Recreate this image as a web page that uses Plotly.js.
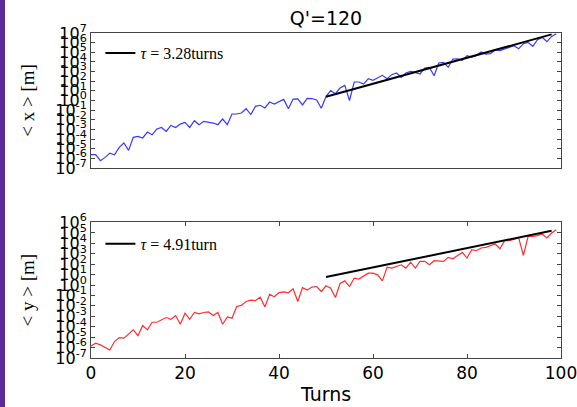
<!DOCTYPE html>
<html>
<head>
<meta charset="utf-8">
<script src="https://cdn.plot.ly/plotly-3.0.1.min.js"></script>
<style>
  html, body { margin: 0; padding: 0; background: #ffffff; }
  #wrap { position: relative; width: 577px; height: 407px; }
  #chart { width: 577px; height: 407px; }
  #strip { position: absolute; left: 0; top: 0; width: 5px; height: 407px; background: #5a2a96; }
</style>
</head>
<body>
<div id="wrap">
  <div id="chart"></div>
  <div id="strip"></div>
</div>
<script>
// Turn numbers
const turns = [0,1,2,3,4,5,6,7,8,9,10,11,12,13,14,15,16,17,18,19,20,21,22,23,24,25,26,27,28,29,30,31,32,33,34,35,36,37,38,39,40,41,42,43,44,45,46,47,48,49,50,51,52,53,54,55,56,57,58,59,60,61,62,63,64,65,66,67,68,69,70,71,72,73,74,75,76,77,78,79,80,81,82,83,84,85,86,87,88,89,90,91,92,93,94,95,96,97,98,99];

// <x> [m] (blue)
const xMean = [2.4e-6,2.4e-6,5.8e-7,1.26e-6,3.5e-6,2.4e-6,1.4e-5,3.9e-5,6.8e-6,1.5e-4,
  1.9e-4,1.3e-4,5.4e-4,2.8e-4,1.1e-3,1.6e-3,6.3e-4,2.6e-3,1.6e-3,3.6e-3,
  5.4e-3,1.6e-3,8.1e-3,3.1e-3,6.9e-3,5.9e-3,4.6e-3,3.1e-3,1.2e-2,3.1e-3,
  4.0e-2,4.0e-2,5.0e-2,0.14,3.5e-2,0.25,0.32,0.17,0.69,0.43,
  0.81,1.3,0.14,1.4,1.5,0.35,1.7,1.6,1.15,0.16,
  2.6,10.5,5.1,19.5,37,1.0,83,83,51,182,
  123,214,407,182,479,708,251,708,1050,832,
  562,2340,2750,372,7760,9120,2750,2.0e4,2.14e4,1.45e4,
  4.47e4,3.24e4,4.8e4,1.07e5,6.6e4,7.2e4,1.86e5,1.48e5,2.19e5,3.24e5,
  4.9e5,2.34e5,7.8e5,1.07e6,4.2e5,2.04e6,3.55e6,1.26e6,4.47e6,8.5e6];

// <y> [m] (red)
const yMean = [1.45e-6,2.6e-6,1.8e-6,1.0e-6,5.9e-7,3.8e-6,9.1e-6,7.9e-6,1.9e-5,5.0e-5,
  1.4e-5,1.3e-4,5.0e-5,2.7e-4,2.7e-4,4.6e-4,7.6e-4,5.2e-4,1.17e-3,1.74e-4,
  2.0e-3,5.2e-4,2.3e-3,1.7e-3,2.3e-3,2.6e-3,1.17e-3,2.3e-3,1.74e-4,8.7e-4,
  6.6e-4,8.7e-3,1.1e-2,2.6e-2,3.5e-2,3.2e-2,6.9e-2,7.9e-3,0.13,7.4e-2,
  0.19,0.22,0.18,0.43,2.6e-2,0.56,0.33,0.63,0.72,0.24,
  0.85,0.5,6.3e-2,1.4,2.5,0.72,4.6,3.7,7.8,13.8,
  13.8,9.5,2.5,52,42,62,87,42,158,42,
  186,186,87,214,186,186,447,331,692,1350,
  389,2450,1950,3550,4070,5890,8510,3020,1.78e4,1.78e4,
  2.24e4,3.24e4,692,4.68e4,4.68e4,5.4e4,7.8e4,3.24e4,9.8e4,2.04e5];

// Exponential fits (end points)
const fitTurns = [50, 98];
const fitX = [2.5, 7.2e6];
const fitY = [5.8, 1.6e5];
const fitXLabel = '<i>τ</i> = 3.28turns';
const fitYLabel = '<i>τ</i> = 4.91turn';

// Tick labels
const xTickVals = [0, 20, 40, 60, 80, 100];
const xTickText = ['0', '20', '40', '60', '80', '100'];
const topExps = [-7,-6,-5,-4,-3,-2,-1,0,1,2,3,4,5,6,7];
const topTickVals = [1e-7,1e-6,1e-5,1e-4,1e-3,1e-2,1e-1,1,1e1,1e2,1e3,1e4,1e5,1e6,1e7];
const botExps = [-7,-6,-5,-4,-3,-2,-1,0,1,2,3,4,5,6];
const botTickVals = [1e-7,1e-6,1e-5,1e-4,1e-3,1e-2,1e-1,1,1e1,1e2,1e3,1e4,1e5,1e6];
const topTickText = topExps.map(e => '10<sup>' + e + '</sup>');
const botTickText = botExps.map(e => '10<sup>' + e + '</sup>');

const traces = [
  {x: turns, y: xMean, xaxis: 'x', yaxis: 'y', mode: 'lines',
   line: {color: '#3838ff', width: 1.2}, showlegend: false},
  {x: fitTurns, y: fitX, xaxis: 'x', yaxis: 'y', mode: 'lines', name: fitXLabel,
   line: {color: '#000000', width: 2}, showlegend: true, legend: 'legend'},
  {x: turns, y: yMean, xaxis: 'x2', yaxis: 'y2', mode: 'lines',
   line: {color: '#ff2e2e', width: 1.2}, showlegend: false},
  {x: fitTurns, y: fitY, xaxis: 'x2', yaxis: 'y2', mode: 'lines', name: fitYLabel,
   line: {color: '#000000', width: 2}, showlegend: true, legend: 'legend2'}
];

const axisFont = {family: 'DejaVu Sans', size: 16, color: '#000'};
const frame = {showline: true, linecolor: '#444', linewidth: 1, mirror: 'ticks', zeroline: false, showgrid: false};

const layout = {
  width: 577, height: 407,
  margin: {l: 91, r: 16, t: 33, b: 49},
  paper_bgcolor: '#ffffff', plot_bgcolor: '#ffffff',
  showlegend: true,
  title: {text: "Q'=120", font: {family: 'DejaVu Sans', size: 19, color: '#000'},
          x: 0.565, xanchor: 'center', y: 0.955, yanchor: 'middle'},
  xaxis: Object.assign({}, frame, {domain: [0, 1], anchor: 'y', range: [0, 100],
    tickvals: xTickVals, ticktext: xTickText, ticks: '', showticklabels: false}),
  yaxis: Object.assign({}, frame, {domain: [0.5846, 1], anchor: 'x', type: 'log', range: [-7, 7],
    tickvals: topTickVals, ticktext: topTickText, ticks: 'inside', ticklen: 4, tickcolor: '#444',
    tickfont: axisFont,
    title: {text: '< x > [m]', font: {family: 'Liberation Serif', size: 19, color: '#000'}, standoff: 15}}),
  xaxis2: Object.assign({}, frame, {domain: [0, 1], anchor: 'y2', range: [0, 100],
    tickvals: xTickVals, ticktext: xTickText, ticks: 'inside', ticklen: 4, tickcolor: '#444',
    ticklabeloverflow: 'allow',
    tickfont: {family: 'DejaVu Sans', size: 17, color: '#000'},
    title: {text: 'Turns', font: {family: 'DejaVu Sans', size: 19, color: '#000'}, standoff: 5}}),
  yaxis2: Object.assign({}, frame, {domain: [0, 0.417], anchor: 'x2', type: 'log', range: [-7, 6],
    tickvals: botTickVals, ticktext: botTickText, ticks: 'inside', ticklen: 4, tickcolor: '#444',
    tickfont: axisFont,
    title: {text: '< y > [m]', font: {family: 'Liberation Serif', size: 19, color: '#000'}, standoff: 15}}),
  legend: {x: 0.02, y: 0.938, xanchor: 'left', yanchor: 'middle', bgcolor: 'rgba(0,0,0,0)',
           borderwidth: 0, font: {family: 'Liberation Serif', size: 16, color: '#000'}},
  legend2: {x: 0.02, y: 0.351, xanchor: 'left', yanchor: 'middle', bgcolor: 'rgba(0,0,0,0)',
           borderwidth: 0, font: {family: 'Liberation Serif', size: 16, color: '#000'}}
};

Plotly.newPlot('chart', traces, layout, {displayModeBar: false, staticPlot: true});
</script>
</body>
</html>
